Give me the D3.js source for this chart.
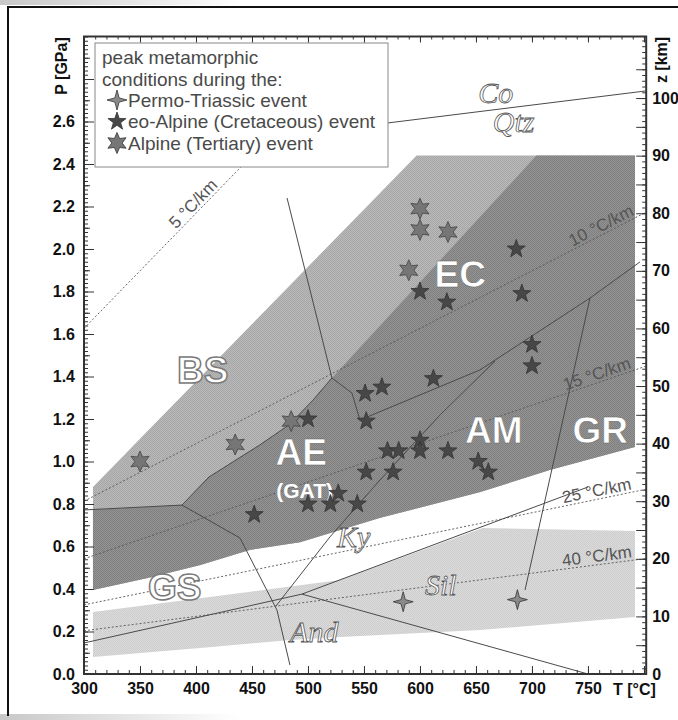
<!DOCTYPE html>
<html>
<head>
<meta charset="utf-8">
<script src="https://d3js.org/d3.v7.min.js"></script>
<style>
  body { margin: 0; background: #fff; }
  svg { display: block; font-family: 'Liberation Sans', Arial, sans-serif; }
</style>
</head>
<body>
<svg width="678" height="720"></svg>
<script>
// tick labels
const tLabels = [300, 350, 400, 450, 500, 550, 600, 650, 700, 750];
const pLabels = [0, 0.2, 0.4, 0.6, 0.8, 1.0, 1.2, 1.4, 1.6, 1.8, 2.0, 2.2, 2.4, 2.6];
const zLabels = [0, 10, 20, 30, 40, 50, 60, 70, 80, 90, 100];

// geotherms in °C/km
const gradients = [5, 10, 15, 25, 40];

// peak metamorphic conditions (T in °C, P in GPa)
const permoT = [585, 687];
const permoP = [0.34, 0.35];
const eoT = [452, 500, 500, 520, 527, 544, 551, 552, 552, 566, 571, 576, 581, 600, 600, 600, 612, 624, 625, 652, 661, 686, 691, 700, 700];
const eoP = [0.75, 1.20, 0.80, 0.80, 0.85, 0.80, 1.32, 1.19, 0.95, 1.35, 1.05, 0.95, 1.05, 1.80, 1.10, 1.05, 1.39, 1.75, 1.05, 1.00, 0.95, 2.00, 1.79, 1.55, 1.45];
const alpT = [350, 435, 485, 590, 600, 600, 625];
const alpP = [1.00, 1.08, 1.19, 1.90, 2.09, 2.19, 2.08];

// shaded fields, [T, P]
const shadeLower = [[792, 1.068], [716, 0.96], [654, 0.856], [564, 0.734], [493, 0.62], [448, 0.584], [404, 0.513], [360, 0.455], [308, 0.395]];
const shadeLightTop = [[308, 0.88], [597, 2.44], [792, 2.44]];
const shadeDarkTop = [[704, 2.44], [792, 2.44]];
const shadeDarkLeft = [[308, 0.773], [387.5, 0.795], [411.6, 0.927], [457, 1.078], [483, 1.172], [504.5, 1.289], [521.4, 1.393]];
const alSilBand = [[308, 0.292], [528.6, 0.442], [656, 0.687], [792, 0.673], [792, 0.268], [654, 0.207], [529, 0.174], [484, 0.16], [404, 0.122], [308, 0.08]];

// facies and reaction boundaries, [T, P]
const lineBsEc = [[481.3, 2.24], [521.4, 1.393]];
const lineBsAe = [[521.4, 1.393], [504.5, 1.289], [483, 1.172], [457, 1.078], [411.6, 0.927], [387.5, 0.795], [300, 0.772]];
const lineAeEc = [[521.4, 1.393], [539.3, 1.322], [546.4, 1.195]];
const lineEcAm = [[546.4, 1.195], [653.6, 1.431], [751.8, 1.769], [796.4, 1.939]];
const lineAeAm = [[667, 1.473], [617.9, 1.219], [564.3, 0.913], [519.6, 0.645], [471.4, 0.32]];
const lineGsAe = [[387.5, 0.795], [439.3, 0.64], [472.3, 0.301], [483.9, 0.042]];
const lineAmGr = [[751.8, 1.769], [693.8, 0.395]];
const lineAndKy = [[300, 0.146], [494.6, 0.376]];
const lineKySil = [[494.6, 0.376], [750, 0.88]];
const lineAndSil = [[494.6, 0.376], [750, 0.0]];
const lineCoQtz = [[571, 2.593], [802, 2.744]];

// field labels [text, T, P at baseline]
const faciesLabels = [['EC', 636, 1.821], ['AE', 494, 0.984], ['AM', 666, 1.087], ['GR', 761, 1.087]];
const outlineLabels = [['BS', 406, 1.369], ['GS', 381, 0.348]];
const mineralLabels = [['Co', 652, 2.687], ['Qtz', 665, 2.55], ['Ky', 526, 0.598], ['Sil', 604.5, 0.372], ['And', 484, 0.15]];

const legendTitle = ['peak metamorphic', 'conditions during the:'];
const legendItems = ['Permo-Triassic event', 'eo-Alpine (Cretaceous) event', 'Alpine (Tertiary) event'];

const svg = d3.select('svg');
const x = d3.scaleLinear().domain([300, 802]).range([84, 646.2]);
const y = d3.scaleLinear().domain([0, 3]).range([674, 36.5]);
const z = d3.scaleLinear().domain([0, 110.6]).range([674, 37]);

const defs = svg.append('defs');

// halftone-like textures for the shaded fields
function halftone(id, a, b) {
  const p = defs.append('pattern').attr('id', id).attr('width', 2).attr('height', 2)
    .attr('patternUnits', 'userSpaceOnUse');
  p.append('rect').attr('width', 2).attr('height', 2).attr('fill', a);
  p.append('rect').attr('width', 1).attr('height', 1).attr('fill', b);
  p.append('rect').attr('x', 1).attr('y', 1).attr('width', 1).attr('height', 1).attr('fill', b);
}
halftone('htLight', '#bababa', '#a6a6a6');
halftone('htDark', '#949494', '#7f7f7f');
halftone('htBand', '#dcdcdc', '#cccccc');

// scan frame
const grad = defs.append('linearGradient').attr('id', 'fade');
grad.append('stop').attr('offset', '0%').attr('stop-color', '#c8c8c8');
grad.append('stop').attr('offset', '100%').attr('stop-color', '#fff');
svg.append('rect').attr('x', 0).attr('y', 0).attr('width', 240).attr('height', 5).attr('fill', 'url(#fade)');
svg.append('rect').attr('x', 0).attr('y', 714).attr('width', 240).attr('height', 6).attr('fill', 'url(#fade)');
svg.append('path').attr('d', 'M8,716 L8,7 L690,7').attr('fill', 'none').attr('stroke', '#111').attr('stroke-width', 2);

defs.append('clipPath').attr('id', 'plotClip')
  .append('rect').attr('x', x(300)).attr('y', y(3)).attr('width', x(802) - x(300)).attr('height', y(0) - y(3));

const plot = svg.append('g').attr('clip-path', 'url(#plotClip)');
const line = d3.line().x(d => x(d[0])).y(d => y(d[1]));

plot.append('path').attr('d', line(shadeLightTop.concat(shadeLower)) + 'Z').attr('fill', 'url(#htLight)');
plot.append('path').attr('d', line(shadeDarkTop.concat(shadeLower, shadeDarkLeft)) + 'Z').attr('fill', 'url(#htDark)');
plot.append('path').attr('d', line(alSilBand) + 'Z').attr('fill', 'url(#htBand)');

// geotherms
gradients.forEach(g => {
  const tEnd = Math.min(802, g * 88);
  plot.append('line')
    .attr('x1', x(300)).attr('y1', z(300 / g))
    .attr('x2', x(tEnd)).attr('y2', z(tEnd / g))
    .attr('stroke', '#555').attr('stroke-width', 0.9).attr('stroke-dasharray', '2,2');
});

[lineBsEc, lineBsAe, lineAeEc, lineEcAm, lineAeAm, lineGsAe, lineAmGr, lineAndKy, lineKySil, lineAndSil, lineCoQtz]
  .forEach(l => plot.append('path').attr('d', line(l)).attr('fill', 'none').attr('stroke', '#4a4a4a').attr('stroke-width', 1));

// geotherm labels
const geoLabelT = [403, 793, 790, 790, 790];
const geoAnchor = ['middle', 'end', 'end', 'end', 'end'];
gradients.forEach((g, i) => {
  const t = geoLabelT[i];
  const ang = Math.atan2(z((t + 10) / g) - z(t / g), x(t + 10) - x(t)) * 180 / Math.PI;
  svg.append('text')
    .attr('transform', `translate(${x(t)},${z(t / g)}) rotate(${ang})`)
    .attr('dy', -3).attr('text-anchor', geoAnchor[i])
    .attr('font-size', 17).attr('fill', '#555')
    .text(g + ' °C/km');
});

// field labels
faciesLabels.forEach(d => svg.append('text')
  .attr('x', x(d[1])).attr('y', y(d[2])).attr('text-anchor', 'middle')
  .attr('font-size', 37).attr('font-weight', 'bold').attr('fill', '#fff').attr('stroke', '#666').attr('stroke-width', 0.5)
  .text(d[0]));
svg.append('text').attr('x', x(497)).attr('y', y(0.828)).attr('text-anchor', 'middle')
  .attr('font-size', 21).attr('font-weight', 'bold').attr('fill', '#fff').text('(GAT)');
outlineLabels.forEach(d => svg.append('text')
  .attr('x', x(d[1])).attr('y', y(d[2])).attr('text-anchor', 'middle')
  .attr('font-size', 37).attr('font-weight', 'bold').attr('fill', '#fff').attr('stroke', '#7a7a7a').attr('stroke-width', 1.5)
  .text(d[0]));
mineralLabels.forEach(d => svg.append('text')
  .attr('x', x(d[1])).attr('y', y(d[2]))
  .attr('font-family', "'Liberation Serif', 'Times New Roman', serif").attr('font-style', 'italic')
  .attr('font-size', 30).attr('fill', '#fff').attr('stroke', '#555').attr('stroke-width', 0.8)
  .text(d[0]));

// star symbols
function starPath(n, R, r) {
  const pts = d3.range(2 * n).map(i => {
    const a = -Math.PI / 2 + i * Math.PI / n;
    const rad = i % 2 ? r : R;
    return [rad * Math.cos(a), rad * Math.sin(a)];
  });
  return 'M' + pts.join('L') + 'Z';
}
const permoStar = starPath(4, 10, 3);
const eoStar = starPath(5, 9.5, 3.8);
const alpStar = starPath(6, 10.5, 5.2);

function drawStars(ts, ps, shape, fill, stroke) {
  svg.append('g').selectAll('path').data(ts).join('path')
    .attr('transform', (d, i) => `translate(${x(d)},${y(ps[i])})`)
    .attr('d', shape).attr('fill', fill).attr('stroke', stroke).attr('stroke-width', 0.8);
}
drawStars(alpT, alpP, alpStar, '#767676', '#444');
drawStars(eoT, eoP, eoStar, '#474747', '#333');
drawStars(permoT, permoP, permoStar, '#8a8a8a', '#333');

// legend
const leg = svg.append('g');
leg.append('rect').attr('x', 95).attr('y', 43).attr('width', 293).attr('height', 124)
  .attr('fill', '#fff').attr('stroke', '#888').attr('stroke-width', 1);
legendTitle.forEach((t, i) => leg.append('text').attr('x', 102).attr('y', 64 + i * 22)
  .attr('font-size', 19).attr('fill', '#4a4a4a').text(t));
const legShapes = [[permoStar, '#8a8a8a'], [eoStar, '#474747'], [alpStar, '#767676']];
legendItems.forEach((t, i) => {
  leg.append('path').attr('transform', `translate(117,${100 + i * 21.5})`)
    .attr('d', legShapes[i][0]).attr('fill', legShapes[i][1]).attr('stroke', '#333').attr('stroke-width', 0.8);
  leg.append('text').attr('x', 128).attr('y', 106.5 + i * 21.5)
    .attr('font-size', 19).attr('fill', '#4a4a4a').text(t);
});

// axes
function styleAxis(g) {
  g.select('.domain').remove();
  g.selectAll('line').attr('stroke', '#333');
  g.selectAll('text').attr('font-size', 16).attr('font-weight', 'bold').attr('fill', '#111')
    .attr('font-family', "'Liberation Sans', Arial, sans-serif");
}
const gL = svg.append('g').attr('transform', `translate(${x(300)},0)`);
gL.append('g').call(d3.axisLeft(y).tickValues(d3.range(0, 3.001, 0.02)).tickSize(-4).tickFormat('')).call(styleAxis);
gL.append('g').call(d3.axisLeft(y).tickValues(d3.range(0.1, 3, 0.2)).tickSize(-6).tickFormat('')).call(styleAxis);
gL.append('g').call(d3.axisLeft(y).tickValues(pLabels.concat([2.8])).tickSize(-10).tickPadding(9)
  .tickFormat(d => d > 2.7 ? '' : d3.format('.1f')(d))).call(styleAxis);

const gB = svg.append('g').attr('transform', `translate(0,${y(0)})`);
gB.append('g').call(d3.axisBottom(x).tickValues(d3.range(300, 801, 10)).tickSize(-4).tickFormat('')).call(styleAxis);
gB.append('g').call(d3.axisBottom(x).tickValues(tLabels.concat([800])).tickSize(-8).tickPadding(9)
  .tickFormat(d => d > 760 ? '' : d)).call(styleAxis);

const gT = svg.append('g').attr('transform', `translate(0,${y(3)})`);
gT.append('g').call(d3.axisTop(x).tickValues(d3.range(300, 801, 10)).tickSize(-3).tickFormat('')).call(styleAxis);
gT.append('g').call(d3.axisTop(x).tickValues(d3.range(300, 801, 50)).tickSize(-6).tickFormat('')).call(styleAxis);

const gR = svg.append('g').attr('transform', `translate(${x(802)},0)`);
gR.append('g').call(d3.axisRight(z).tickValues(d3.range(0, 111, 1)).tickSize(-4).tickFormat('')).call(styleAxis);
gR.append('g').call(d3.axisRight(z).tickValues(d3.range(5, 111, 10)).tickSize(-10).tickFormat('')).call(styleAxis);
gR.append('g').call(d3.axisRight(z).tickValues(zLabels).tickSize(-10).tickPadding(6)).call(styleAxis);

svg.append('rect').attr('x', x(300)).attr('y', y(3)).attr('width', x(802) - x(300)).attr('height', y(0) - y(3))
  .attr('fill', 'none').attr('stroke', '#333').attr('stroke-width', 2);

// axis titles
svg.append('text').attr('transform', 'translate(67,66) rotate(-90)').attr('text-anchor', 'middle')
  .attr('font-size', 16).attr('font-weight', 'bold').attr('fill', '#111').text('P [GPa]');
svg.append('text').attr('transform', 'translate(667,60) rotate(-90)').attr('text-anchor', 'middle')
  .attr('font-size', 16).attr('font-weight', 'bold').attr('fill', '#111').text('z [km]');
svg.append('text').attr('x', 613).attr('y', 695)
  .attr('font-size', 16).attr('font-weight', 'bold').attr('fill', '#111').text('T [°C]');
</script>
</body>
</html>
